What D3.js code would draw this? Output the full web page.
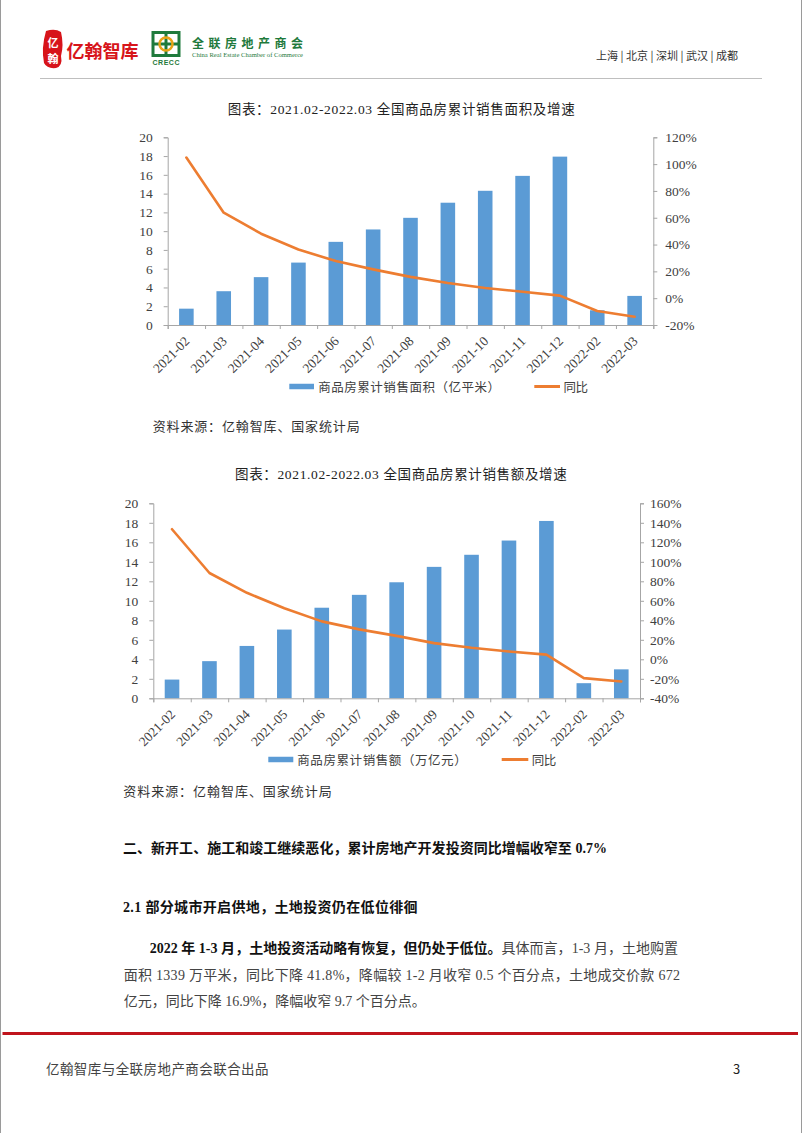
<!DOCTYPE html>
<html>
<head>
<meta charset="utf-8">
<script src="https://cdn.jsdelivr.net/npm/d3@7/dist/d3.min.js"></script>
<style>
html,body{margin:0;padding:0;background:#fff;}
svg{display:block;}
</style>
</head>
<body>
<svg id="page" width="802" height="1133"></svg>
<script>
// ---------------- data ----------------
const categories = ["2021-02","2021-03","2021-04","2021-05","2021-06","2021-07","2021-08","2021-09","2021-10","2021-11","2021-12","2022-02","2022-03"];
const areaValues = [1.74,3.60,5.10,6.65,8.86,10.18,11.42,13.03,14.30,15.89,17.94,1.57,3.10];
const areaGrowth = [104.9,63.8,48.1,36.3,27.7,21.5,15.9,11.3,7.6,4.8,1.9,-9.6,-13.8];
const salesValues = [1.92,3.81,5.37,7.05,9.29,10.61,11.90,13.48,14.72,16.18,18.19,1.55,2.97];
const salesGrowth = [133.4,88.5,68.2,52.4,38.9,30.7,24.0,16.6,11.8,8.0,4.8,-19.3,-22.7];
const leftTicks = [0,2,4,6,8,10,12,14,16,18,20];
const rightTicks1 = [-20,0,20,40,60,80,100,120];
const rightTicks2 = [-40,-20,0,20,40,60,80,100,120,140,160];
const chartTitles = ["图表：2021.02-2022.03 全国商品房累计销售面积及增速","图表：2021.02-2022.03 全国商品房累计销售额及增速"];
const barNames = ["商品房累计销售面积（亿平米）","商品房累计销售额（万亿元）"];
const lineName = "同比";
const sourceText = "资料来源：亿翰智库、国家统计局";

const BAR = "#5B9BD5", LINE = "#ED7D31", AXIS = "#A6A6A6", TXT = "#404040";
const SERIF = "'Liberation Serif','Noto Sans CJK SC',serif";
const CJK = "'Noto Sans CJK SC','Liberation Serif',sans-serif";

const svg = d3.select("#page");

// ---------------- page frame ----------------
svg.append("line").attr("x1",0.5).attr("x2",0.5).attr("y1",0).attr("y2",1133).attr("stroke","#9a9a9a");
svg.append("line").attr("x1",801.5).attr("x2",801.5).attr("y1",0).attr("y2",1133).attr("stroke","#9a9a9a");

// header
const hdr = svg.append("g");
hdr.append("path")
  .attr("d","M46,31 Q55,28 61,32 Q64,45 61,56 Q63,66 56,68 Q47,69 44,63 Q41,48 46,31 Z")
  .attr("fill","#D7141A");
hdr.append("text").attr("x",53).attr("y",42).attr("text-anchor","middle").attr("dominant-baseline","central")
  .attr("font-family",CJK).attr("font-size",11).attr("font-weight","bold").attr("fill","#fff").text("亿");
hdr.append("text").attr("x",53).attr("y",58).attr("text-anchor","middle").attr("dominant-baseline","central")
  .attr("font-family",CJK).attr("font-size",11).attr("font-weight","bold").attr("fill","#fff").text("翰");
hdr.append("text").attr("x",66.5).attr("y",50).attr("dominant-baseline","central")
  .attr("font-family",CJK).attr("font-size",18).attr("font-weight","bold").attr("fill","#D7141A")
  .attr("textLength",72).attr("lengthAdjust","spacingAndGlyphs").text("亿翰智库");
// CRECC logo
const lg = hdr.append("g");
lg.append("rect").attr("x",153).attr("y",32.5).attr("width",26).attr("height",23).attr("fill","none").attr("stroke","#1F7A3C").attr("stroke-width",3);
lg.append("line").attr("x1",166).attr("x2",166).attr("y1",32).attr("y2",56).attr("stroke","#1F7A3C").attr("stroke-width",3);
lg.append("line").attr("x1",152).attr("x2",180).attr("y1",44).attr("y2",44).attr("stroke","#1F7A3C").attr("stroke-width",3);
lg.append("circle").attr("cx",166).attr("cy",44).attr("r",6.5).attr("fill","none").attr("stroke","#E8A317").attr("stroke-width",2.5);
lg.append("text").attr("x",166).attr("y",62.5).attr("text-anchor","middle").attr("dominant-baseline","central")
  .attr("font-family","'Liberation Sans',sans-serif").attr("font-size",7).attr("font-weight","bold").attr("fill","#1F7A3C")
  .attr("textLength",27).attr("lengthAdjust","spacing").text("CRECC");
hdr.append("text").attr("x",192).attr("y",42).attr("dominant-baseline","central")
  .attr("font-family",CJK).attr("font-size",12).attr("font-weight","bold").attr("fill","#1F7A3C")
  .attr("textLength",111).attr("lengthAdjust","spacing").text("全联房地产商会");
hdr.append("text").attr("x",192).attr("y",54.5).attr("dominant-baseline","central")
  .attr("font-family",SERIF).attr("font-size",7).attr("fill","#1F7A3C")
  .attr("textLength",111).attr("lengthAdjust","spacingAndGlyphs").text("China Real Estate Chamber of Commerce");
hdr.append("text").attr("x",596).attr("y",55).attr("dominant-baseline","central")
  .attr("font-family",CJK).attr("font-size",11).attr("fill","#333")
  .attr("textLength",142).attr("lengthAdjust","spacing").text("上海 | 北京 | 深圳 | 武汉 | 成都");
hdr.append("line").attr("x1",40).attr("x2",762).attr("y1",78.5).attr("y2",78.5).attr("stroke","#BFBFBF").attr("stroke-width",1);

// ---------------- chart builder ----------------
function drawChart(cfg) {
  const g = svg.append("g");
  const x = d3.scaleBand().domain(categories).range([cfg.x0, cfg.x1]).padding(0);
  const step = x.step();
  const bw = step * 0.39;
  const yL = d3.scaleLinear().domain([0,20]).range([cfg.yB, cfg.yT]);
  const yR = d3.scaleLinear().domain(cfg.rDomain).range([cfg.yB, cfg.yT]);
  const idx = d3.scaleLinear().domain([0, categories.length]).range([cfg.x0, cfg.x1]);

  // title
  g.append("text").attr("x",cfg.title.x).attr("y",cfg.title.y).attr("dominant-baseline","central")
    .attr("font-family",SERIF).attr("font-size",13.5).attr("fill","#222")
    .attr("textLength",cfg.title.w).attr("lengthAdjust","spacing").text(cfg.title.text);

  // left axis
  const la = g.append("g").attr("transform",`translate(${cfg.x0},0)`)
    .call(d3.axisLeft(yL).tickValues(leftTicks).tickSize(4).tickPadding(cfg.lPad));
  // right axis
  const ra = g.append("g").attr("transform",`translate(${cfg.x1},0)`)
    .call(d3.axisRight(yR).tickValues(cfg.rTicks).tickSize(4).tickPadding(cfg.rPad).tickFormat(d => d + "%"));
  [la, ra].forEach(a => {
    a.select(".domain").attr("stroke",AXIS);
    a.selectAll(".tick line").attr("stroke",AXIS);
    a.selectAll("text").attr("font-family",SERIF).attr("font-size",13.5).attr("fill",TXT);
  });

  // bars
  g.append("g").selectAll("rect").data(cfg.values).join("rect")
    .attr("x",(d,i) => x(categories[i]) + (step - bw)/2)
    .attr("width",bw)
    .attr("y",d => yL(d))
    .attr("height",d => yL(0) - yL(d))
    .attr("fill",BAR);

  // bottom axis (ticks between categories)
  const ba = g.append("g").attr("transform",`translate(0,${cfg.yB})`)
    .call(d3.axisBottom(idx).tickValues(d3.range(categories.length + 1)).tickSize(4).tickFormat(""));
  ba.select(".domain").attr("stroke",AXIS);
  ba.selectAll(".tick line").attr("stroke",AXIS);

  // line
  const line = d3.line().x((d,i) => x(categories[i]) + step/2).y(d => yR(d));
  g.append("path").datum(cfg.growth).attr("d",line).attr("fill","none")
    .attr("stroke",LINE).attr("stroke-width",2.6).attr("stroke-linejoin","round").attr("stroke-linecap","round");

  // x labels
  g.append("g").selectAll("text").data(categories).join("text")
    .attr("transform",d => `translate(${x(d) + step/2 + 4},${cfg.yB + 17}) rotate(-45)`)
    .attr("text-anchor","end")
    .attr("font-family",SERIF).attr("font-size",13.5).attr("fill",TXT)
    .text(d => d);

  // legend
  const L = cfg.legend;
  g.append("rect").attr("x",L.rx).attr("y",L.y - 2.75).attr("width",L.rw).attr("height",5.5).attr("fill",BAR);
  g.append("text").attr("x",L.tx).attr("y",L.y).attr("dominant-baseline","central")
    .attr("font-family",CJK).attr("font-size",12.5).attr("fill",TXT)
    .attr("textLength",L.tw).attr("lengthAdjust","spacing").text(cfg.barName);
  g.append("line").attr("x1",L.lx).attr("x2",L.lx + L.lw).attr("y1",L.y).attr("y2",L.y)
    .attr("stroke",LINE).attr("stroke-width",3);
  g.append("text").attr("x",L.lx + L.lw + 3.5).attr("y",L.y).attr("dominant-baseline","central")
    .attr("font-family",CJK).attr("font-size",12.5).attr("fill",TXT)
    .attr("textLength",24.5).attr("lengthAdjust","spacing").text(lineName);

  // source
  g.append("text").attr("x",cfg.source.x).attr("y",cfg.source.y).attr("dominant-baseline","central")
    .attr("font-family",CJK).attr("font-size",13).attr("fill","#333")
    .attr("textLength",cfg.source.w).attr("lengthAdjust","spacing").text(sourceText);
}

drawChart({
  x0:167.7, x1:653.3, yT:137.3, yB:325,
  values:areaValues, growth:areaGrowth, rDomain:[-20,120], rTicks:rightTicks1,
  lPad:11, rPad:8,
  title:{x:227.7, y:109, w:347, text:chartTitles[0]},
  barName:barNames[0],
  legend:{rx:289.3, rw:24.7, tx:318.3, tw:181.7, lx:534.3, lw:25.7, y:386.5},
  source:{x:152.7, y:425, w:207}
});
drawChart({
  x0:153.3, x1:640, yT:503.3, yB:698.3,
  values:salesValues, growth:salesGrowth, rDomain:[-40,160], rTicks:rightTicks2,
  lPad:11, rPad:6,
  title:{x:235, y:474, w:331.7, text:chartTitles[1]},
  barName:barNames[1],
  legend:{rx:268.3, rw:25, tx:297.3, tw:169.4, lx:501.7, lw:26.6, y:759.5},
  source:{x:123.3, y:790, w:208.4}
});

// ---------------- body text ----------------
const body = svg.append("g");
body.append("text").attr("x",123).attr("y",848).attr("dominant-baseline","central")
  .attr("font-family",SERIF).attr("font-size",14).attr("font-weight","bold").attr("fill","#111")
  .attr("textLength",484).attr("lengthAdjust","spacing")
  .text("二、新开工、施工和竣工继续恶化，累计房地产开发投资同比增幅收窄至 0.7%");
body.append("text").attr("x",123).attr("y",907).attr("dominant-baseline","central")
  .attr("font-family",SERIF).attr("font-size",14).attr("font-weight","bold").attr("fill","#111")
  .attr("textLength",294.6).attr("lengthAdjust","spacing")
  .text("2.1 部分城市开启供地，土地投资仍在低位徘徊");
const p1 = body.append("text").attr("x",149.7).attr("y",948).attr("dominant-baseline","central")
  .attr("font-family",SERIF).attr("font-size",14)
  .attr("textLength",528.3).attr("lengthAdjust","spacing");
p1.append("tspan").attr("font-weight","bold").attr("fill","#111").text("2022 年 1-3 月，土地投资活动略有恢复，但仍处于低位。");
p1.append("tspan").attr("fill","#444").text("具体而言，1-3 月，土地购置");
body.append("text").attr("x",123.7).attr("y",975).attr("dominant-baseline","central")
  .attr("font-family",SERIF).attr("font-size",14).attr("fill","#444")
  .attr("textLength",556.3).attr("lengthAdjust","spacing")
  .text("面积 1339 万平米，同比下降 41.8%，降幅较 1-2 月收窄 0.5 个百分点，土地成交价款 672");
body.append("text").attr("x",123.7).attr("y",1001.5).attr("dominant-baseline","central")
  .attr("font-family",SERIF).attr("font-size",14).attr("fill","#444")
  .text("亿元，同比下降 16.9%，降幅收窄 9.7 个百分点。");

// ---------------- footer ----------------
svg.append("line").attr("x1",2.5).attr("x2",798).attr("y1",1033.5).attr("y2",1033.5).attr("stroke","#C0141C").attr("stroke-width",3);
svg.append("text").attr("x",46).attr("y",1068).attr("dominant-baseline","central")
  .attr("font-family",CJK).attr("font-size",13.5).attr("fill","#444")
  .attr("textLength",222.5).attr("lengthAdjust","spacing").text("亿翰智库与全联房地产商会联合出品");
svg.append("text").attr("x",733).attr("y",1068).attr("dominant-baseline","central")
  .attr("font-family",CJK).attr("font-size",13).attr("fill","#222").text("3");
</script>
</body>
</html>
